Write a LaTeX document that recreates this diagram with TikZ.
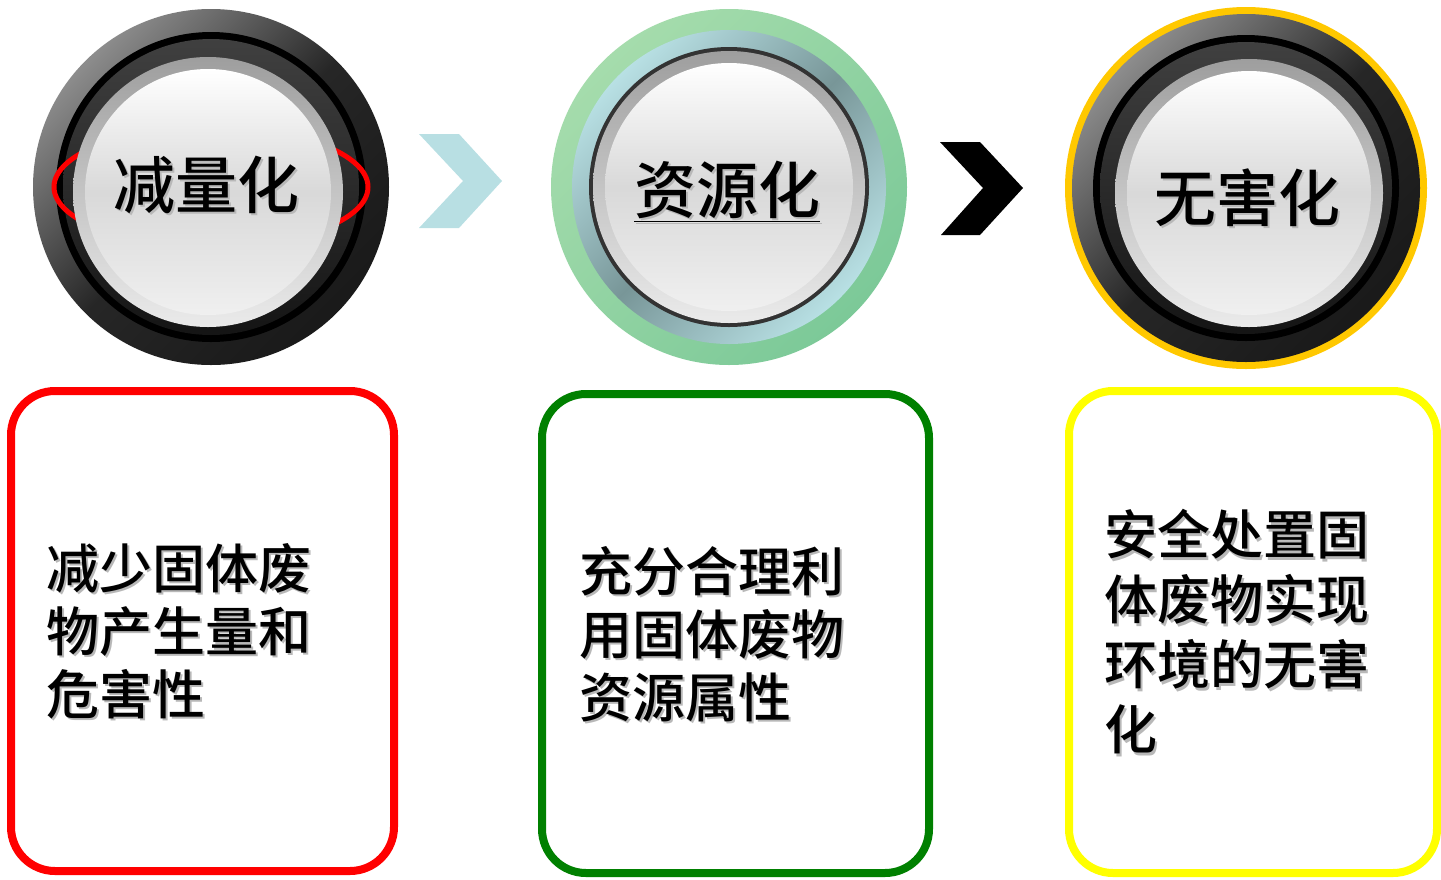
\documentclass[tikz,border=0pt]{standalone}
\usepackage{fontspec}
\setmainfont{Noto Sans CJK SC}
\newfontfamily\cjkfont{Noto Sans CJK SC Medium}
\definecolor{ringred}{RGB}{255,0,0}
\definecolor{boxgreen}{RGB}{0,128,0}
\definecolor{boxyellow}{RGB}{255,255,0}
\definecolor{ringgold}{RGB}{255,200,0}
\definecolor{chevblue}{RGB}{184,223,227}
\definecolor{greenA}{RGB}{165,220,172}
\definecolor{greenB}{RGB}{124,201,152}
\definecolor{steelA}{RGB}{184,224,228}
\definecolor{steelB}{RGB}{120,150,152}
\newcommand{\shd}[1]{\makebox[0pt][l]{\raisebox{-1.2pt}{\hspace{1.2pt}\textcolor{black!28}{#1}}}#1}

\begin{document}
\begin{tikzpicture}[x=0.5pt,y=-0.5pt,
  outerring/.style={top color=black!45,bottom color=black!90,middle color=black!85,shading angle=45},
  rim/.style={top color=black!38!white,bottom color=black!8!white},
  face/.style={top color=white,bottom color=black!6!white,middle color=black!15!white},
  title/.style={inner sep=0pt,font=\fontsize{31}{31}\selectfont\cjkfont},
  card/.style={line width=4pt,rounded corners=22pt},
  body/.style={inner sep=0pt,anchor=north west,align=left}]
\useasboundingbox (0,0) rectangle (1441,879);
\coordinate (C1) at (211,187);
\coordinate (C2) at (729,187);
\coordinate (C3) at (1246,188);
\coordinate (B1) at (208,192);
\coordinate (B3) at (1249,193);
% first button
\shade[outerring] (C1) circle (178);
\fill[black] (C1) circle (155);
\shade[top color=black!75,bottom color=black!92] (C1) circle (148);
\draw[ringred,line width=2.5pt] (C1) ellipse [x radius=157,y radius=60];
\shade[rim] (B1) circle (135);
\shade[face] (B1) circle (123);
\node[title] (t1) at (206,186) {\shd{减量化}};
% second button
\shade[top color=greenA,bottom color=greenB,shading angle=45] (C2) circle (178);
\shade[top color=steelA,bottom color=steelA,middle color=steelB,shading angle=45] (C2) circle (157);
\fill[black!80] (C2) circle (140);
\shade[rim] (C2) circle (136);
\shade[face] (C2) circle (124);
\node[title] (t2) at (727,193) {\shd{\underline{资源化}}};
% third button
\fill[ringgold] (C3) circle (181);
\shade[outerring] (C3) circle (174);
\fill[black] (C3) circle (153);
\shade[top color=black!75,bottom color=black!92] (C3) circle (146);
\shade[rim] (B3) circle (134);
\shade[face] (B3) circle (122);
\node[title] (t3) at (1247,199) {\shd{无害化}};
% chevrons
\fill[chevblue] (419,134) -- (459,134) -- (502,181) -- (459,228) -- (419,228) -- (463,181) -- cycle;
\fill[black] (940,142) -- (980,142) -- (1023,188) -- (980,235) -- (941,235) -- (983,188) -- cycle;
% cards
\draw[card,ringred] (11,391) rectangle (394,871);
\draw[card,boxgreen] (542,394) rectangle (929,873);
\draw[card,boxyellow] (1069,391) rectangle (1437,873);
\node[body,font=\fontsize{26.5}{31.5}\selectfont\cjkfont] (d1) at (46,543)
  {\shd{减少固体废}\\\shd{物产生量和}\\\shd{危害性}};
\node[body,font=\fontsize{26.5}{31.5}\selectfont\cjkfont] (d2) at (579,546)
  {\shd{充分合理利}\\\shd{用固体废物}\\\shd{资源属性}};
\node[body,font=\fontsize{26.5}{32.5}\selectfont\cjkfont] (d3) at (1104,509)
  {\shd{安全处置固}\\\shd{体废物实现}\\\shd{环境的无害}\\\shd{化}};
\end{tikzpicture}
\end{document}
